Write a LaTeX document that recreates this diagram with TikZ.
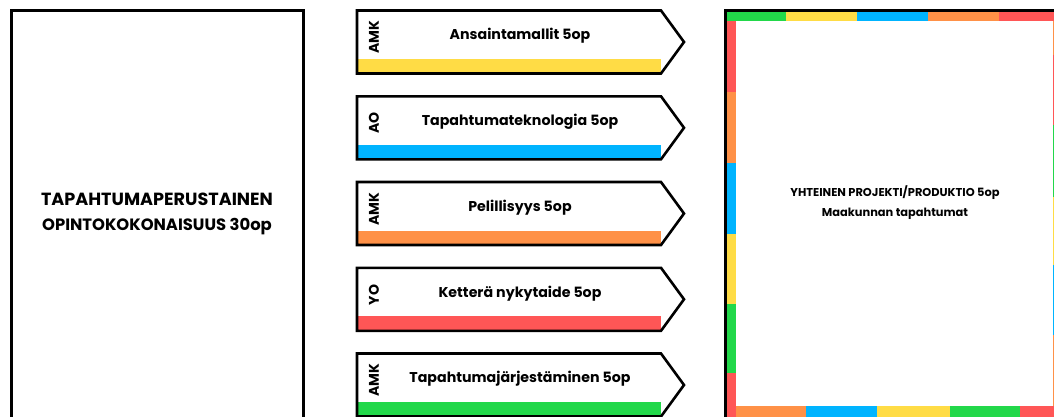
\documentclass[tikz,border=0pt]{standalone}
\usepackage{fontspec}
\setmainfont{Poppins}
\begin{document}
\definecolor{cgreen}{HTML}{22D84A}
\definecolor{cyellow}{HTML}{FFDC45}
\definecolor{cblue}{HTML}{00B4FF}
\definecolor{corange}{HTML}{FF9147}
\definecolor{cred}{HTML}{FF5656}
\tikzset{
  frameline/.style={draw=black, line width=3pt},
  tagline/.style={draw=black, line width=2.6pt, line join=miter},
  bigtext/.style={font=\bfseries\fontsize{17.6}{25}\selectfont, align=center, text=black},
  coursetext/.style={font=\bfseries\fontsize{14.2}{18}\selectfont, text=black},
  orgtext/.style={font=\bfseries\fontsize{14}{16}\selectfont, text=black, rotate=90},
  projtext/.style={font=\bfseries\fontsize{11.4}{20}\selectfont, align=center, text=black},
}
% one course tag: #1 top edge, #2 bar colour, #3 organiser, #4 course name, #5 name prefix
\newcommand{\coursetag}[5]{%
  \fill[#2] (356,#1+48.5) rectangle (661,#1+63);
  \draw[tagline] (357,#1) -- (661,#1) -- (684,#1+31.5) -- (661,#1+63) -- (357,#1+63) -- cycle;
  \node[orgtext] (#5org) at (374,#1+27) {#3};
  \node[coursetext] (#5name) at (520,#1+25.5) {#4};
}
\begin{tikzpicture}[x=1pt, y=-1pt]
\useasboundingbox (0,0) rectangle (1054,416);
\fill[white] (0,0) rectangle (1054,416);
\begin{scope}
\clip (0,0) rectangle (1054,416);

% left block
\draw[frameline] (11,10.5) rectangle (303.5,425);
\node[bigtext] (study) at (157,214) {TAPAHTUMAPERUSTAINEN\\{\fontsize{16.4}{25}\selectfont OPINTOKOKONAISUUS 30op}};

% course tags
\coursetag{10.5}{cyellow}{AMK}{Ansaintamallit 5op}{a}
\coursetag{96.3}{cblue}{AO}{Tapahtumateknologia 5op}{b}
\coursetag{182}{corange}{AMK}{Pelillisyys 5op}{c}
\coursetag{267.8}{cred}{YO}{Ketterä nykytaide 5op}{d}
\coursetag{353.5}{cgreen}{AMK}{Tapahtumajärjestäminen 5op}{e}

% project frame with coloured border
\fill[cgreen]  (727,12) rectangle (786,21);
\fill[cyellow] (786,12) rectangle (857,21);
\fill[cblue]   (857,12) rectangle (928,21);
\fill[corange] (928,12) rectangle (999,21);
\fill[cred]    (999,12) rectangle (1060,21);

\fill[cred]    (727,21) rectangle (736,92);
\fill[corange] (727,92) rectangle (736,163);
\fill[cblue]   (727,163) rectangle (736,234);
\fill[cyellow] (727,234) rectangle (736,304);
\fill[cgreen]  (727,304) rectangle (736,373);
\fill[cred]    (727,373) rectangle (736,420);

\fill[corange] (736,406) rectangle (806,420);
\fill[cblue]   (806,406) rectangle (877,420);
\fill[cyellow] (877,406) rectangle (950,420);
\fill[cgreen]  (950,406) rectangle (1020,420);
\fill[cred]    (1020,406) rectangle (1060,420);

\fill[corange] (1053,21) rectangle (1060,55);
\fill[cred]    (1053,55) rectangle (1060,125);
\fill[cgreen]  (1053,125) rectangle (1060,197);
\fill[cyellow] (1053,197) rectangle (1060,265);
\fill[cblue]   (1053,265) rectangle (1060,335);
\fill[corange] (1053,335) rectangle (1060,406);

\draw[frameline] (725,425) -- (725,10.5) -- (1060,10.5);
\node[projtext] (project) at (895,203) {YHTEINEN PROJEKTI/PRODUKTIO 5op\\Maakunnan tapahtumat};
\end{scope}
\end{tikzpicture}
\end{document}
